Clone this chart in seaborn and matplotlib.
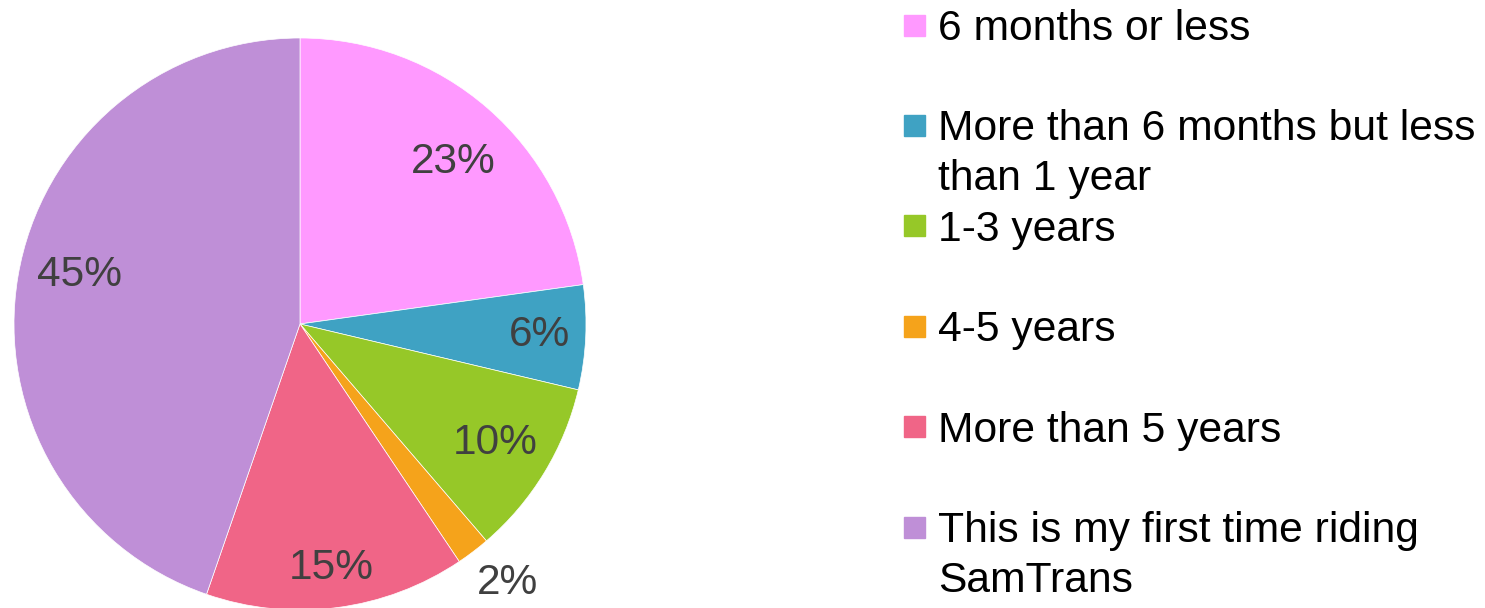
import numpy as np
import matplotlib
matplotlib.use('Agg')
import matplotlib.pyplot as plt
import seaborn as sns
from matplotlib.patches import Rectangle

# data
categories = ['6 months or less',
              'More than 6 months but less\nthan 1 year',
              '1-3 years',
              '4-5 years',
              'More than 5 years',
              'This is my first time riding\nSamTrans']
shares = [22.8, 5.9, 10.0, 1.9, 14.7, 44.7]
pct_labels = ['23%', '6%', '10%', '2%', '15%', '45%']
colors = ['#FF99FF', '#3FA2C3', '#96C828', '#F5A31B', '#F06587', '#BF8FD7']

sns.set_theme(style='white')
plt.rcParams['font.family'] = ['Liberation Sans', 'DejaVu Sans']

W, H = 1485, 608
fig = plt.figure(figsize=(W / 100, H / 100), dpi=100)

# pie: centre (300, 324) px, radius 286 px
cx, cy, r = 300, 324, 286
ax = fig.add_axes([(cx - r) / W, 1 - (cy + r) / H, 2 * r / W, 2 * r / H])
wedges, _ = ax.pie(shares, colors=colors, startangle=90, counterclock=False,
                   wedgeprops=dict(edgecolor='white', linewidth=0.5))
ax.set_xlim(-1, 1)
ax.set_ylim(-1, 1)
ax.axis('off')

# label distance from centre (fraction of radius) and small angle nudges
label_dist = [0.78, 0.84, 0.80, 1.16, 0.86, 0.79]
label_nudge = [-2.5, 0, 0, 1.5, 0, -3]
for w, lab, d, nd in zip(wedges, pct_labels, label_dist, label_nudge):
    mid = np.deg2rad((w.theta1 + w.theta2) / 2 + nd)
    ax.text(d * np.cos(mid), d * np.sin(mid), lab, ha='center', va='center',
            fontsize=30.5, color='#404040', clip_on=False)

# legend drawn by hand to follow the reference layout
sq = 21
for i, (lab, col) in enumerate(zip(categories, colors)):
    yc = 25 + 100.4 * i
    fig.patches.append(Rectangle((904 / W, 1 - (yc + sq / 2) / H), sq / W, sq / H,
                                 transform=fig.transFigure, color=col))
    for j, line in enumerate(lab.split('\n')):
        base = yc + 15 + 50 * j
        fig.text(938 / W, 1 - base / H, line, ha='left', va='baseline',
                 fontsize=30.7, color='black')

fig.savefig('out.png', dpi=100)
